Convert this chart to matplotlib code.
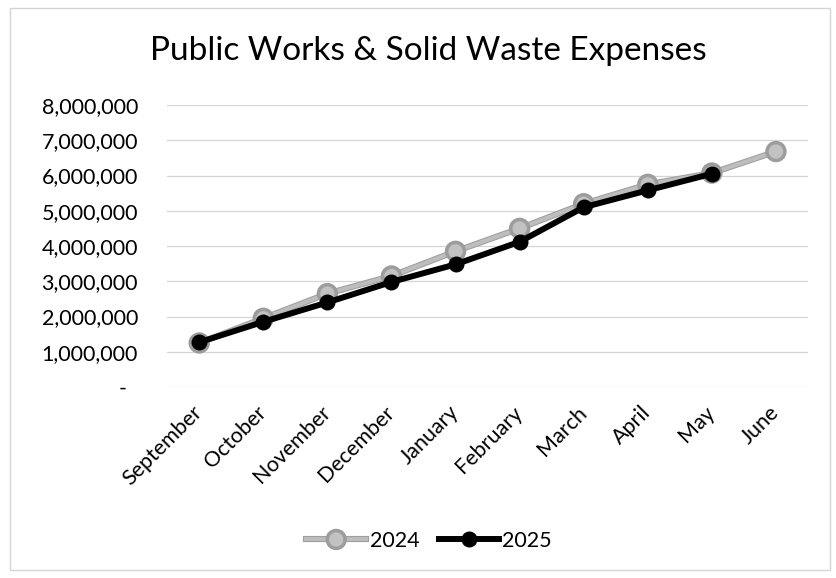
import matplotlib
matplotlib.use("Agg")
import matplotlib.pyplot as plt
import matplotlib.patheffects as pe
from matplotlib.patches import Rectangle
from matplotlib.ticker import FuncFormatter

plt.rcParams['font.family'] = ['Lato', 'DejaVu Sans']

months = ['September', 'October', 'November', 'December', 'January',
          'February', 'March', 'April', 'May', 'June']
exp_2024 = [1250000, 1950000, 2650000, 3150000, 3850000,
            4500000, 5200000, 5750000, 6070000, 6680000]
exp_2025 = [1270000, 1850000, 2400000, 2980000, 3480000,
            4120000, 5100000, 5580000, 6050000]
y_ticks = list(range(0, 8000001, 1000000))


def money(v, pos):
    if v == 0:
        return '-  '
    return f'{int(v):,}'


fig = plt.figure(figsize=(8.36, 5.78), dpi=100)
ax = fig.add_axes([0.2, 0.3304, 0.7665, 0.4879])

x = range(len(months))
# gray line with a darker rim, like the scanned original
ax.plot(x, exp_2024, '-o', color='#bdbdbd', lw=3, ms=11,
        mfc='#c2c2c2', mec='#a0a0a0', mew=0.8, label='2024', zorder=3,
        path_effects=[pe.Stroke(linewidth=4.4, foreground='#9c9c9c'),
                      pe.Normal()])
ax.plot(range(len(exp_2025)), exp_2025, '-o', color='black', lw=4.3,
        ms=10.5, label='2025', zorder=4)

ax.set_xlim(-0.5, len(months) - 0.5)
ax.set_ylim(0, 8000000)
ax.set_yticks(y_ticks)
ax.yaxis.set_major_formatter(FuncFormatter(money))
ax.grid(axis='y', color='#d6d6d6', lw=0.9)
ax.set_axisbelow(True)
for s in ax.spines.values():
    s.set_visible(False)
ax.tick_params(axis='both', length=0, labelsize=15.5)
ax.tick_params(axis='y', pad=21)
ax.tick_params(axis='x', pad=16)
ax.set_xticks(list(x))
ax.set_xticklabels(months, rotation=45, ha='right', va='center',
                   rotation_mode='anchor')

fig.text(0.512, 1 - 60 / 578, 'Public Works & Solid Waste Expenses',
         ha='center', va='baseline', fontsize=24)

fig.legend(loc='center', bbox_to_anchor=(0.513, 1 - 541 / 578), ncol=2,
           frameon=False, fontsize=15.5, handlelength=2.8, columnspacing=0.9,
           handletextpad=0.15)

fig.patches.append(Rectangle((10 / 836, 8 / 578), 820 / 836, 562 / 578,
                             transform=fig.transFigure, fill=False,
                             ec='#d4d4d4', lw=1))

fig.savefig('out.png', dpi=100)
